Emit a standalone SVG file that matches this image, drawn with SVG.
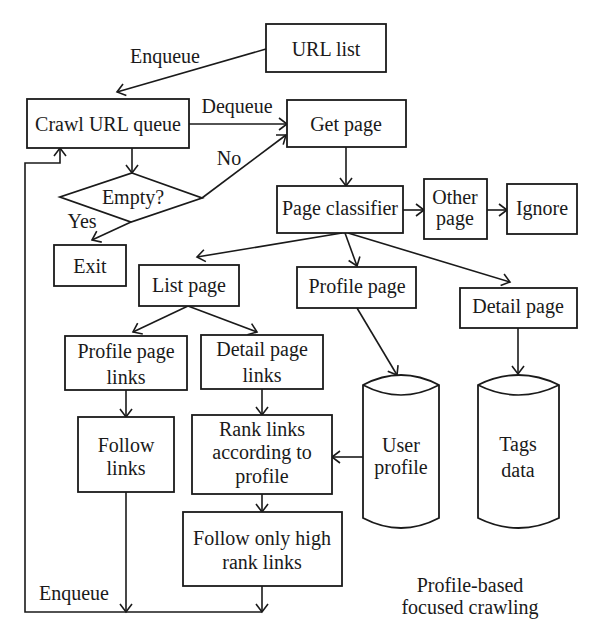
<svg xmlns="http://www.w3.org/2000/svg" width="600" height="641" viewBox="0 0 600 641">
<style>
.b{fill:#fff;stroke:#1a1a1a;stroke-width:1.8}
.t{font-family:"Liberation Serif","Times New Roman",serif;font-size:20px;fill:#1a1a1a;text-anchor:middle}
.c{fill:none;stroke:#1a1a1a;stroke-width:1.6}
.a{marker-end:url(#ah)}
</style>
<defs>
<marker id="ah" markerUnits="userSpaceOnUse" markerWidth="14" markerHeight="14" refX="10" refY="7" orient="auto" viewBox="0 0 14 14">
<path d="M2,1 L10,7 L2,13" fill="none" stroke="#1a1a1a" stroke-width="1.6"/>
</marker>
</defs>
<rect width="600" height="641" fill="#fff"/>
<g id="connectors">
<line class="c a" x1="266" y1="49" x2="117" y2="92"/>
<line class="c a" x1="189" y1="124" x2="287" y2="124"/>
<line class="c a" x1="132" y1="148" x2="132" y2="173"/>
<line class="c a" x1="202" y1="198" x2="286" y2="135"/>
<line class="c a" x1="131" y1="222" x2="92" y2="240"/>
<line class="c a" x1="346" y1="147" x2="346" y2="186"/>
<line class="c a" x1="403" y1="210" x2="424" y2="210"/>
<line class="c a" x1="487" y1="210" x2="507" y2="210"/>
<line class="c a" x1="342" y1="233" x2="197" y2="257"/>
<line class="c a" x1="345" y1="233" x2="357" y2="266"/>
<line class="c a" x1="348" y1="233" x2="510" y2="282"/>
<line class="c a" x1="188" y1="306" x2="133" y2="332"/>
<line class="c a" x1="188" y1="306" x2="257" y2="332"/>
<line class="c a" x1="126" y1="390" x2="126" y2="417"/>
<line class="c a" x1="262" y1="389" x2="262" y2="415"/>
<line class="c a" x1="262" y1="494" x2="262" y2="512"/>
<line class="c a" x1="357" y1="308" x2="397" y2="375"/>
<line class="c a" x1="518" y1="328" x2="518" y2="374"/>
<line class="c a" x1="363" y1="457" x2="332" y2="457"/>
<line class="c a" x1="126" y1="492" x2="126" y2="612"/>
<line class="c a" x1="262" y1="586" x2="262" y2="612"/>
<polyline class="c a" points="262,612 25,612 25,163 60,163 60,148"/>
<text class="t" x="165" y="63">Enqueue</text>
<text class="t" x="237" y="113">Dequeue</text>
<text class="t" x="229" y="165">No</text>
<text class="t" x="82" y="228">Yes</text>
<text class="t" x="74" y="600">Enqueue</text>
</g>
<g id="url-list"><rect class="b" x="266" y="24" width="120" height="48"/><text class="t" x="326" y="56">URL list</text></g>
<g id="crawl-queue"><rect class="b" x="27" y="99" width="162" height="49"/><text class="t" x="108" y="131">Crawl URL queue</text></g>
<g id="get-page"><rect class="b" x="287" y="100" width="119" height="47"/><text class="t" x="346" y="131">Get page</text></g>
<g id="empty"><polygon class="b" points="132,173 202,198 131,222 60,197"/><text class="t" x="133" y="204">Empty?</text></g>
<g id="exit"><rect class="b" x="54" y="245" width="72" height="41"/><text class="t" x="90" y="273">Exit</text></g>
<g id="page-classifier"><rect class="b" x="277" y="186" width="126" height="47"/><text class="t" x="340" y="215">Page classifier</text></g>
<g id="other-page"><rect class="b" x="424" y="179" width="63" height="60"/><text class="t" x="455" y="204">Other</text><text class="t" x="455" y="225">page</text></g>
<g id="ignore"><rect class="b" x="507" y="184" width="70" height="50"/><text class="t" x="542" y="215">Ignore</text></g>
<g id="list-page"><rect class="b" x="139" y="265" width="100" height="41"/><text class="t" x="189" y="292">List page</text></g>
<g id="profile-page"><rect class="b" x="297" y="267" width="119" height="41"/><text class="t" x="357" y="293">Profile page</text></g>
<g id="detail-page"><rect class="b" x="460" y="288" width="117" height="40"/><text class="t" x="518" y="313">Detail page</text></g>
<g id="profile-page-links"><rect class="b" x="65" y="336" width="122" height="54"/><text class="t" x="126" y="358">Profile page</text><text class="t" x="126" y="384">links</text></g>
<g id="detail-page-links"><rect class="b" x="201" y="335" width="122" height="54"/><text class="t" x="262" y="356">Detail page</text><text class="t" x="262" y="382">links</text></g>
<g id="follow-links"><rect class="b" x="78" y="417" width="96" height="75"/><text class="t" x="126" y="452">Follow</text><text class="t" x="126" y="475">links</text></g>
<g id="rank-links"><rect class="b" x="192" y="415" width="140" height="79"/><text class="t" x="262" y="436">Rank links</text><text class="t" x="262" y="459">according to</text><text class="t" x="262" y="483">profile</text></g>
<g id="follow-high"><rect class="b" x="183" y="512" width="159" height="74"/><text class="t" x="262" y="545">Follow only high</text><text class="t" x="262" y="569">rank links</text></g>
<g id="user-profile">
<path class="b" d="M363,385 Q401,365 439,385 L439,518 Q401,538 363,518 Z"/>
<path class="c" d="M363,385 Q401,405 439,385"/>
<text class="t" x="401" y="452">User</text><text class="t" x="401" y="474">profile</text>
</g>
<g id="tags-data">
<path class="b" d="M478,385 Q518.5,365 559,385 L559,518 Q518.5,538 478,518 Z"/>
<path class="c" d="M478,385 Q518.5,405 559,385"/>
<text class="t" x="518" y="451">Tags</text><text class="t" x="518" y="477">data</text>
</g>
<g id="caption"><text class="t" x="470" y="592">Profile-based</text><text class="t" x="470" y="614">focused crawling</text></g>
</svg>
